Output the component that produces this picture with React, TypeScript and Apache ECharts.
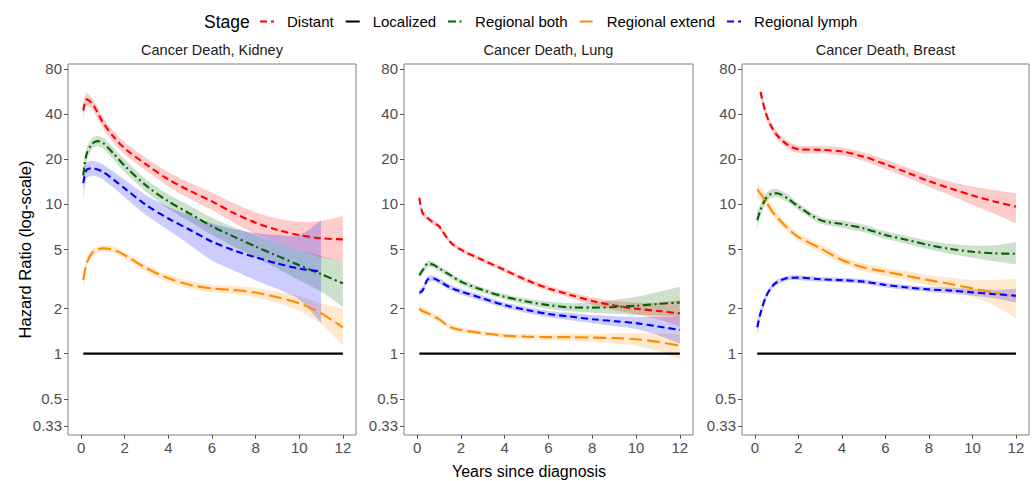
import React, { useEffect, useRef } from "react";
import * as echarts from "echarts";

const FONT = "'Liberation Sans', Arial, Helvetica, sans-serif";

const X = [0.1, 0.25, 0.5, 0.75, 1, 1.5, 2, 3, 4, 5, 6, 7, 8, 9, 10, 11, 12];
const X_TICKS = [0, 2, 4, 6, 8, 10, 12];
const Y_TICKS = [0.33, 0.5, 1, 2, 5, 10, 20, 40, 80];
const PANELS = ["Cancer Death, Kidney", "Cancer Death, Lung", "Cancer Death, Breast"];
const STAGES = ["Distant", "Localized", "Regional both", "Regional extend", "Regional lymph"];

const LOCALIZED = [1, 1, 1, 1, 1, 1, 1, 1, 1, 1, 1, 1, 1, 1, 1, 1, 1];

// Kidney
const KIDNEY_DISTANT_EST = [42, 50, 47, 41, 35, 28, 23.5, 18.3, 14.6, 12.2, 10.4, 8.7, 7.5, 6.7, 6.2, 5.9, 5.8];
const KIDNEY_DISTANT_LO = [37, 45, 43, 37.5, 32, 25.5, 21.4, 16.6, 13.1, 10.8, 9.1, 7.5, 6.3, 5.5, 4.9, 4.4, 4.1];
const KIDNEY_DISTANT_HI = [47, 55, 51, 44.5, 38, 30.5, 25.8, 20.2, 16.3, 13.8, 11.9, 10.1, 8.8, 8.0, 7.6, 7.7, 8.3];
const KIDNEY_BOTH_EST = [15.5, 21.5, 25.2, 26.3, 25.6, 21.6, 18.0, 13.2, 10.4, 8.6, 7.1, 6.05, 5.2, 4.5, 3.9, 3.4, 2.95];
const KIDNEY_BOTH_LO = [13.3, 19.5, 23.2, 24.3, 23.6, 19.7, 16.3, 12.0, 9.3, 7.6, 6.2, 5.2, 4.4, 3.7, 3.1, 2.6, 2.05];
const KIDNEY_BOTH_HI = [18.0, 23.7, 27.4, 28.5, 27.7, 23.6, 19.9, 14.5, 11.6, 9.7, 8.1, 7.0, 6.2, 5.5, 4.9, 4.5, 4.1];
const KIDNEY_EXTEND_EST = [3.1, 4.0, 4.7, 4.95, 5.05, 4.93, 4.56, 3.72, 3.19, 2.88, 2.73, 2.66, 2.56, 2.38, 2.17, 1.86, 1.5];
const KIDNEY_EXTEND_LO = [2.7, 3.7, 4.45, 4.7, 4.8, 4.7, 4.33, 3.53, 3.02, 2.72, 2.58, 2.5, 2.38, 2.17, 1.93, 1.58, 1.14];
const KIDNEY_EXTEND_HI = [3.5, 4.3, 4.95, 5.2, 5.3, 5.18, 4.8, 3.92, 3.37, 3.05, 2.89, 2.83, 2.75, 2.6, 2.42, 2.17, 2.0];
const KIDNEY_LYMPH_EST = [13.8, 16.9, 17.3, 17.0, 16.4, 14.5, 12.7, 9.8, 8.0, 6.7, 5.6, 4.9, 4.4, 4.0, 3.7, 3.55, null];
const KIDNEY_LYMPH_LO = [10.8, 14.9, 15.4, 15.2, 14.6, 12.8, 11.1, 8.4, 6.7, 5.3, 4.2, 3.6, 3.1, 2.7, 2.3, 1.6, null];
const KIDNEY_LYMPH_HI = [17.5, 19.0, 19.4, 19.1, 18.4, 16.4, 14.5, 11.4, 9.6, 8.4, 7.4, 6.8, 6.4, 6.2, 6.2, 7.8, null];

// Lung
const LUNG_DISTANT_EST = [11.0, 8.7, 8.0, 7.5, 7.1, 5.6, 4.95, 4.22, 3.62, 3.1, 2.73, 2.47, 2.25, 2.1, 2.0, 1.93, 1.86];
const LUNG_DISTANT_LO = [10.4, 8.3, 7.7, 7.2, 6.8, 5.4, 4.78, 4.08, 3.5, 2.99, 2.62, 2.36, 2.13, 1.96, 1.83, 1.7, 1.52];
const LUNG_DISTANT_HI = [11.6, 9.1, 8.3, 7.8, 7.4, 5.8, 5.12, 4.36, 3.74, 3.21, 2.84, 2.58, 2.38, 2.25, 2.2, 2.2, 2.28];
const LUNG_BOTH_EST = [3.35, 3.6, 4.0, 3.92, 3.72, 3.36, 3.03, 2.66, 2.4, 2.23, 2.11, 2.04, 2.03, 2.05, 2.09, 2.15, 2.2];
const LUNG_BOTH_LO = [3.15, 3.42, 3.8, 3.75, 3.57, 3.22, 2.9, 2.55, 2.3, 2.13, 2.0, 1.92, 1.88, 1.85, 1.82, 1.8, 1.77];
const LUNG_BOTH_HI = [3.57, 3.78, 4.2, 4.1, 3.88, 3.5, 3.16, 2.77, 2.5, 2.34, 2.23, 2.17, 2.2, 2.28, 2.4, 2.58, 2.8];
const LUNG_EXTEND_EST = [2.0, 1.92, 1.86, 1.78, 1.7, 1.51, 1.44, 1.37, 1.32, 1.3, 1.29, 1.29, 1.28, 1.27, 1.25, 1.2, 1.13];
const LUNG_EXTEND_LO = [1.86, 1.82, 1.78, 1.7, 1.62, 1.45, 1.38, 1.32, 1.28, 1.25, 1.23, 1.22, 1.2, 1.17, 1.13, 1.04, 0.92];
const LUNG_EXTEND_HI = [2.17, 2.03, 1.95, 1.86, 1.78, 1.57, 1.5, 1.42, 1.37, 1.35, 1.35, 1.36, 1.36, 1.37, 1.37, 1.36, 1.35];
const LUNG_LYMPH_EST = [2.55, 2.65, 3.15, 3.18, 3.06, 2.77, 2.6, 2.34, 2.11, 1.96, 1.84, 1.77, 1.7, 1.65, 1.6, 1.52, 1.44];
const LUNG_LYMPH_LO = [2.42, 2.52, 3.0, 3.04, 2.93, 2.65, 2.49, 2.24, 2.02, 1.87, 1.75, 1.67, 1.6, 1.53, 1.46, 1.33, 1.17];
const LUNG_LYMPH_HI = [2.7, 2.79, 3.3, 3.32, 3.2, 2.9, 2.72, 2.45, 2.2, 2.05, 1.93, 1.87, 1.81, 1.78, 1.76, 1.76, 1.78];

// Breast
const BREAST_DISTANT_EST = [null, 56, 40.3, 32.9, 28.9, 24.8, 23.2, 23.0, 22.4, 20.7, 18.4, 16.2, 14.2, 12.7, 11.4, 10.4, 9.6];
const BREAST_DISTANT_LO = [null, 51, 37.5, 30.8, 27.2, 23.4, 21.9, 21.7, 21.1, 19.4, 17.1, 15.0, 13.0, 11.4, 9.9, 8.6, 7.4];
const BREAST_DISTANT_HI = [null, 61, 43.3, 35.1, 30.7, 26.3, 24.6, 24.4, 23.8, 22.1, 19.8, 17.5, 15.5, 14.1, 13.1, 12.4, 11.8];
const BREAST_BOTH_EST = [7.8, 9.1, 10.9, 11.7, 11.8, 10.9, 9.6, 7.8, 7.35, 6.87, 6.2, 5.75, 5.32, 5.0, 4.8, 4.68, 4.65];
const BREAST_BOTH_LO = [6.8, 8.3, 10.2, 11.0, 11.1, 10.3, 9.1, 7.4, 6.95, 6.48, 5.85, 5.4, 4.98, 4.63, 4.38, 4.15, 3.95];
const BREAST_BOTH_HI = [9.0, 10.0, 11.7, 12.5, 12.6, 11.6, 10.1, 8.2, 7.75, 7.28, 6.57, 6.12, 5.68, 5.4, 5.27, 5.3, 5.55];
const BREAST_EXTEND_EST = [12.5, 11.7, 10.4, 9.1, 8.2, 6.9, 6.0, 5.06, 4.22, 3.77, 3.53, 3.3, 3.1, 2.92, 2.73, 2.56, 2.37];
const BREAST_EXTEND_LO = [11.0, 10.6, 9.6, 8.5, 7.7, 6.5, 5.65, 4.75, 3.97, 3.55, 3.3, 3.07, 2.86, 2.64, 2.4, 2.1, 1.72];
const BREAST_EXTEND_HI = [14.2, 12.9, 11.3, 9.75, 8.75, 7.35, 6.4, 5.4, 4.5, 4.0, 3.77, 3.55, 3.35, 3.22, 3.1, 3.1, 3.15];
const BREAST_LYMPH_EST = [1.5, 1.86, 2.4, 2.77, 3.0, 3.2, 3.22, 3.14, 3.1, 3.03, 2.88, 2.77, 2.69, 2.64, 2.57, 2.5, 2.44];
const BREAST_LYMPH_LO = [1.3, 1.72, 2.28, 2.65, 2.88, 3.08, 3.1, 3.03, 2.99, 2.92, 2.77, 2.66, 2.58, 2.52, 2.44, 2.35, 2.2];
const BREAST_LYMPH_HI = [1.7, 2.0, 2.52, 2.89, 3.12, 3.32, 3.34, 3.25, 3.21, 3.14, 2.99, 2.88, 2.8, 2.76, 2.71, 2.67, 2.72];

type Arr = (number | null)[];
const PANEL_DATA: Record<string, [Arr, Arr, Arr]>[] = [
  {
    Distant: [KIDNEY_DISTANT_EST, KIDNEY_DISTANT_LO, KIDNEY_DISTANT_HI],
    "Regional both": [KIDNEY_BOTH_EST, KIDNEY_BOTH_LO, KIDNEY_BOTH_HI],
    "Regional extend": [KIDNEY_EXTEND_EST, KIDNEY_EXTEND_LO, KIDNEY_EXTEND_HI],
    "Regional lymph": [KIDNEY_LYMPH_EST, KIDNEY_LYMPH_LO, KIDNEY_LYMPH_HI],
  },
  {
    Distant: [LUNG_DISTANT_EST, LUNG_DISTANT_LO, LUNG_DISTANT_HI],
    "Regional both": [LUNG_BOTH_EST, LUNG_BOTH_LO, LUNG_BOTH_HI],
    "Regional extend": [LUNG_EXTEND_EST, LUNG_EXTEND_LO, LUNG_EXTEND_HI],
    "Regional lymph": [LUNG_LYMPH_EST, LUNG_LYMPH_LO, LUNG_LYMPH_HI],
  },
  {
    Distant: [BREAST_DISTANT_EST, BREAST_DISTANT_LO, BREAST_DISTANT_HI],
    "Regional both": [BREAST_BOTH_EST, BREAST_BOTH_LO, BREAST_BOTH_HI],
    "Regional extend": [BREAST_EXTEND_EST, BREAST_EXTEND_LO, BREAST_EXTEND_HI],
    "Regional lymph": [BREAST_LYMPH_EST, BREAST_LYMPH_LO, BREAST_LYMPH_HI],
  },
];

const STYLE: Record<string, { color: string; fill: string; dash: any; width: number }> = {
  Distant: { color: "#FF0000", fill: "rgba(255,0,0,0.2)", dash: [7, 4], width: 2.1 },
  Localized: { color: "#000000", fill: "rgba(0,0,0,0.2)", dash: "solid", width: 2.3 },
  "Regional both": { color: "#006400", fill: "rgba(0,100,0,0.2)", dash: [8, 3.5, 2, 3.5], width: 2.1 },
  "Regional extend": { color: "#FF8C00", fill: "rgba(255,140,0,0.2)", dash: [13, 5], width: 2.1 },
  "Regional lymph": { color: "#0000FF", fill: "rgba(0,0,255,0.2)", dash: [7, 4], width: 2.1 },
};

const GRIDS = [
  { left: 68, width: 288 },
  { left: 404, width: 289 },
  { left: 742, width: 287 },
];
const TOP = 64;
const HEIGHT = 371;
const Y_MIN = -0.543;
const Y_MAX = 1.935;

const lg = (v: number | null) => (v == null ? null : Math.log10(v));

function buildOption() {
  const series: any[] = [];
  PANEL_DATA.forEach((panel, p) => {
    // confidence bands (custom series, positioned through the axes)
    Object.keys(panel).forEach((stage, s) => {
      const [, lo, hi] = panel[stage];
      const st = STYLE[stage];
      const idx = X.map((_, i) => i).filter((i) => lo[i] != null && hi[i] != null);
      series.push({
        type: "custom",
        name: `_band_${p}_${s}`,
        xAxisIndex: p,
        yAxisIndex: p,
        silent: true,
        clip: true,
        z: 1,
        data: [[X[idx[0]], lg(lo[idx[0]])]],
        renderItem: (_params: any, api: any) => {
          const upper = idx.map((i) => api.coord([X[i], lg(hi[i])]));
          const lower = idx.map((i) => api.coord([X[i], lg(lo[i])])).reverse();
          // repeat the corner vertices so the ribbon ends stay square
          const pts = [upper[0], ...upper, upper[upper.length - 1], lower[0], ...lower, lower[lower.length - 1]];
          return {
            type: "polygon",
            shape: { points: pts, smooth: 0.3 },
            style: { fill: st.fill },
          };
        },
      });
    });
    // estimate lines
    STAGES.forEach((stage) => {
      const st = STYLE[stage];
      const est = stage === "Localized" ? LOCALIZED : panel[stage][0];
      series.push({
        type: "line",
        name: stage,
        xAxisIndex: p,
        yAxisIndex: p,
        symbol: "none",
        smooth: stage === "Localized" ? false : 0.3,
        z: 3,
        itemStyle: { color: st.color },
        lineStyle: { color: st.color, width: st.width, type: st.dash, cap: "butt" },
        data: X.map((x, i) => [x, lg(est[i])]),
      });
    });
  });

  const yTickVals = Y_TICKS.map((t) => Math.log10(t));

  return {
    animation: false,
    backgroundColor: "#ffffff",
    textStyle: { fontFamily: FONT },
    grid: GRIDS.map((g) => ({
      left: g.left,
      width: g.width,
      top: TOP,
      height: HEIGHT,
      show: true,
      borderColor: "#7f7f7f",
      borderWidth: 1,
      backgroundColor: "transparent",
      containLabel: false,
    })),
    xAxis: GRIDS.map((_, i) => ({
      type: "value",
      gridIndex: i,
      position: "bottom",
      min: -0.6,
      max: 12.6,
      axisLine: { show: false, onZero: false },
      splitLine: { show: false },
      axisTick: { show: true, customValues: X_TICKS, length: 4, lineStyle: { color: "#555555", width: 1 } },
      axisLabel: {
        customValues: X_TICKS,
        margin: 5,
        fontSize: 15,
        color: "#4D4D4D",
        fontFamily: FONT,
      },
    })),
    yAxis: GRIDS.map((_, i) => ({
      type: "value",
      gridIndex: i,
      position: "left",
      min: Y_MIN,
      max: Y_MAX,
      axisLine: { show: false, onZero: false },
      splitLine: { show: false },
      axisTick: { show: true, customValues: yTickVals, length: 4, lineStyle: { color: "#555555", width: 1 } },
      axisLabel: {
        customValues: yTickVals,
        margin: 6,
        fontSize: 15,
        color: "#4D4D4D",
        fontFamily: FONT,
        formatter: (v: number) => {
          let best = Y_TICKS[0];
          let d = Infinity;
          Y_TICKS.forEach((t) => {
            const dd = Math.abs(Math.log10(t) - v);
            if (dd < d) {
              d = dd;
              best = t;
            }
          });
          return String(best);
        },
      },
    })),
    legend: {
      data: STAGES,
      left: 259,
      top: 14,
      padding: 0,
      itemWidth: 14,
      itemHeight: 12,
      itemGap: 11,
      selectedMode: false,
      itemStyle: { opacity: 0 },
      textStyle: { fontSize: 15, color: "#000000", fontFamily: FONT, padding: [0, 0, 0, 8] },
    },
    graphic: [
      {
        type: "text",
        x: 204,
        y: 22,
        style: { text: "Stage", fontSize: 17.5, fill: "#000000", fontFamily: FONT, align: "left", verticalAlign: "middle" },
      },
      ...PANELS.map((t, i) => ({
        type: "text",
        x: GRIDS[i].left + GRIDS[i].width / 2,
        y: 50,
        style: { text: t, fontSize: 14.5, fill: "#1A1A1A", fontFamily: FONT, align: "center", verticalAlign: "middle" },
      })),
      {
        type: "text",
        x: 529,
        y: 471,
        style: { text: "Years since diagnosis", fontSize: 16, fill: "#000000", fontFamily: FONT, align: "center", verticalAlign: "middle" },
      },
      {
        type: "text",
        x: 25,
        y: 249.5,
        rotation: Math.PI / 2,
        style: { text: "Hazard Ratio (log-scale)", fontSize: 16.5, fill: "#000000", fontFamily: FONT, align: "center", verticalAlign: "middle" },
      },
    ],
    series,
  };
}

export default function App() {
  const ref = useRef<HTMLDivElement>(null);
  useEffect(() => {
    if (!ref.current) return;
    const chart = echarts.init(ref.current, undefined, { renderer: "svg" });
    chart.setOption(buildOption() as any);
    return () => chart.dispose();
  }, []);
  return (
    <div
      ref={ref}
      style={{ position: "fixed", left: 0, top: 0, width: 1036, height: 481, background: "#ffffff" }}
    />
  );
}
